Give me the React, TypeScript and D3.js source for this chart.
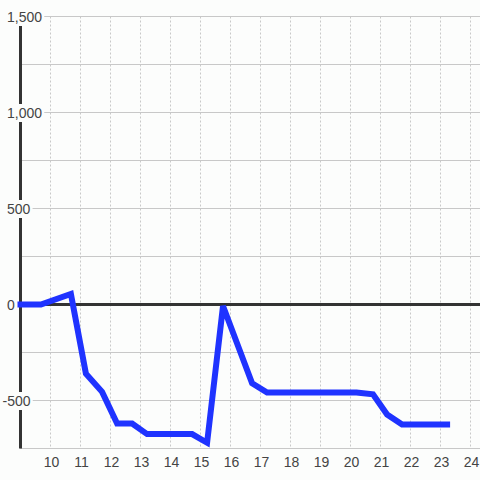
import React, { useEffect, useRef } from "react";
import * as d3 from "d3";

const xValues = [8.9, 9.68, 10.68, 11.18, 11.72, 12.22, 12.72, 13.22, 14.72, 15.22, 15.75, 16.72, 17.22, 20.2, 20.75, 21.22, 21.72, 23.32];
const yValues = [0, 0, 55, -360, -455, -620, -620, -675, -675, -720, -8, -410, -458, -458, -468, -573, -625, -625];
const xTicks = [10, 11, 12, 13, 14, 15, 16, 17, 18, 19, 20, 21, 22, 23, 24];
const yLabelTicks = [1500, 1000, 500, 0, -500];
const yGridTicks = [1500, 1250, 1000, 750, 500, 250, 0, -250, -500, -750];

const W = 480;
const H = 480;
const BG = "#fcfdfc";

export default function App() {
  const ref = useRef<SVGSVGElement | null>(null);

  useEffect(() => {
    const svg = d3.select(ref.current);
    svg.selectAll("*").remove();

    const x = d3.scaleLinear().domain([10, 24]).range([50.5, 470.5]);
    const y = d3.scaleLinear().domain([-750, 1500]).range([448.5, 16.5]);

    svg.append("rect").attr("width", W).attr("height", H).attr("fill", BG);

    // horizontal gridlines
    svg.append("g").selectAll("line").data(yGridTicks).join("line")
      .attr("x1", 20).attr("x2", W)
      .attr("y1", (d) => y(d)).attr("y2", (d) => y(d))
      .attr("stroke", "#c8c8c8").attr("stroke-width", 1);

    // vertical dashed gridlines
    svg.append("g").selectAll("line").data(xTicks).join("line")
      .attr("x1", (d) => x(d)).attr("x2", (d) => x(d))
      .attr("y1", y(1500)).attr("y2", y(-750))
      .attr("stroke", "#c8c8c8").attr("stroke-width", 1)
      .attr("stroke-dasharray", "2,2");

    // y axis line
    svg.append("line")
      .attr("x1", 20.5).attr("x2", 20.5)
      .attr("y1", y(1500)).attr("y2", y(-750))
      .attr("stroke", "#333").attr("stroke-width", 3);

    // zero line
    svg.append("line")
      .attr("x1", 20).attr("x2", W)
      .attr("y1", y(0)).attr("y2", y(0))
      .attr("stroke", "#333").attr("stroke-width", 3);

    // y labels with background
    const fmt = d3.format(",");
    const yl = svg.append("g");
    yLabelTicks.forEach((v) => {
      const g = yl.append("g");
      const rect = g.append("rect").attr("fill", BG);
      const t = g.append("text")
        .attr("x", v < 0 ? 2.5 : 7)
        .attr("y", y(v) + 5.5)
        .attr("font-family", "'Liberation Sans', Arial, sans-serif")
        .attr("font-size", 14)
        .attr("fill", "#444")
        .text(fmt(v).replace("\u2212", "-"));
      const bb = (t.node() as SVGTextElement).getBBox();
      rect.attr("x", bb.x - 2).attr("y", bb.y - 1)
        .attr("width", bb.width + 4).attr("height", bb.height + 2);
    });

    // x labels
    svg.append("g").selectAll("text").data(xTicks).join("text")
      .attr("x", (d) => x(d) + 1)
      .attr("y", 466.5)
      .attr("text-anchor", "middle")
      .attr("font-family", "'Liberation Sans', Arial, sans-serif")
      .attr("font-size", 14)
      .attr("fill", "#444")
      .text((d) => String(d));

    // data line
    const pts: [number, number][] = xValues.map((xv, i) => [xv, yValues[i]]);
    const line = d3.line<[number, number]>()
      .x((d) => x(d[0]))
      .y((d) => y(d[1]));
    svg.append("path")
      .attr("d", line(pts) as string)
      .attr("fill", "none")
      .attr("stroke", "#1f33ff")
      .attr("stroke-width", 6)
      .attr("stroke-linejoin", "miter");
  }, []);

  return (
    <svg
      ref={ref}
      width={W}
      height={H}
      style={{ position: "absolute", left: 0, top: 0, display: "block" }}
    />
  );
}
